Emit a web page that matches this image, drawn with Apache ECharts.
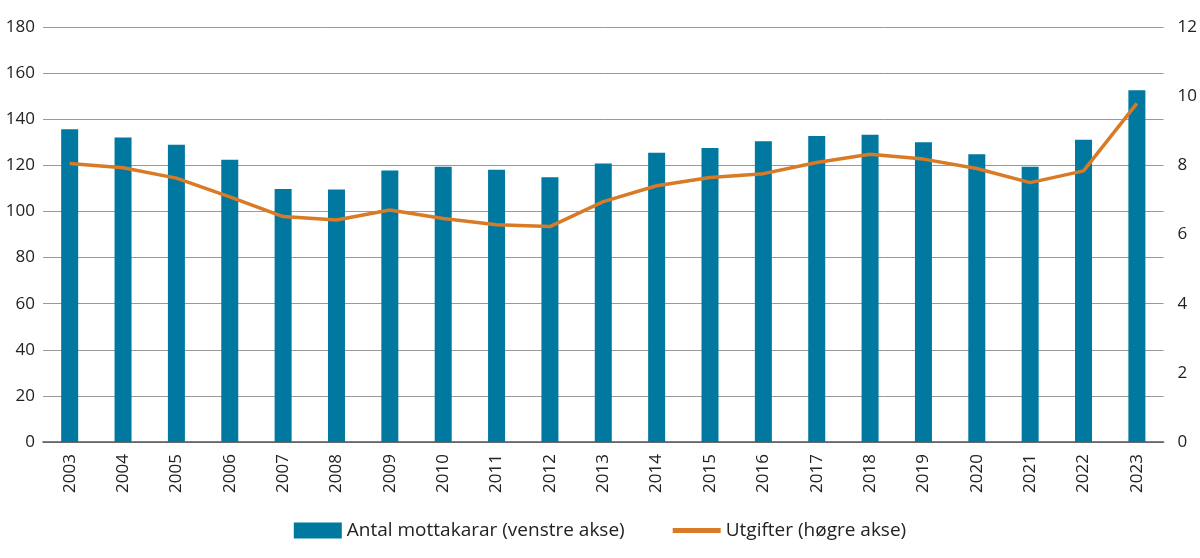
<!DOCTYPE html>
<html>
<head>
<meta charset="utf-8">
<script src="https://cdn.jsdelivr.net/npm/echarts@6/dist/echarts.min.js"></script>
<style>
  html, body { margin: 0; padding: 0; background: #fff; }
  #chart { width: 1200px; height: 558px; }
</style>
</head>
<body>
<div id="chart"></div>
<script>
const years = ['2003', '2004', '2005', '2006', '2007', '2008', '2009', '2010', '2011', '2012',
  '2013', '2014', '2015', '2016', '2017', '2018', '2019', '2020', '2021', '2022', '2023'];
// antal mottakarar (tusen), venstre akse
const mottakarar = [135.6, 132.1, 128.9, 122.4, 109.7, 109.5, 117.8, 119.4, 118.1, 114.8,
  120.8, 125.5, 127.5, 130.5, 132.7, 133.3, 130.0, 124.8, 119.4, 131.1, 152.6];
// utgifter (mrd. kr), høgre akse
const utgifter = [8.05, 7.93, 7.63, 7.09, 6.52, 6.42, 6.71, 6.46, 6.28, 6.23,
  6.95, 7.41, 7.65, 7.76, 8.08, 8.32, 8.18, 7.91, 7.50, 7.84, 9.79];
const leftTicks = [0, 180, 20];
const rightTicks = [0, 12, 2];

const font = '"Liberation Sans Narrow", "Open Sans", sans-serif';
const chart = echarts.init(document.getElementById('chart'));

chart.setOption({
  animation: false,
  textStyle: { fontFamily: font, color: '#222' },
  grid: { left: 43, right: 34, top: 27, bottom: 116 },
  legend: {
    bottom: 13,
    left: 'center',
    itemGap: 48,
    itemWidth: 48,
    itemHeight: 16,
    textStyle: { fontSize: 19, color: '#222', fontFamily: font },
    data: [
      { name: 'Antal mottakarar (venstre akse)', icon: 'rect' },
      { name: 'Utgifter (høgre akse)', icon: 'path://M0,0h40v4h-40z' }
    ]
  },
  xAxis: {
    type: 'category',
    data: years,
    axisTick: { show: false },
    axisLine: { lineStyle: { color: '#555', width: 1.5 } },
    axisLabel: { rotate: 90, fontSize: 17, color: '#222', margin: 12 }
  },
  yAxis: [
    {
      type: 'value',
      min: leftTicks[0], max: leftTicks[1], interval: leftTicks[2],
      axisLabel: { fontSize: 17, color: '#222', margin: 8 },
      splitLine: { lineStyle: { color: '#999', width: 1 } },
      axisLine: { show: false },
      axisTick: { show: false }
    },
    {
      type: 'value',
      min: rightTicks[0], max: rightTicks[1], interval: rightTicks[2],
      position: 'right',
      axisLabel: { fontSize: 17, color: '#222', margin: 14 },
      splitLine: { show: false },
      axisLine: { show: false },
      axisTick: { show: false }
    }
  ],
  series: [
    {
      name: 'Antal mottakarar (venstre akse)',
      type: 'bar',
      yAxisIndex: 0,
      data: mottakarar,
      barWidth: 17,
      itemStyle: { color: '#00789f' }
    },
    {
      name: 'Utgifter (høgre akse)',
      type: 'line',
      yAxisIndex: 1,
      data: utgifter,
      symbol: 'none',
      lineStyle: { color: '#d97a26', width: 3.5 },
      itemStyle: { color: '#d97a26' }
    }
  ]
});
</script>
</body>
</html>
